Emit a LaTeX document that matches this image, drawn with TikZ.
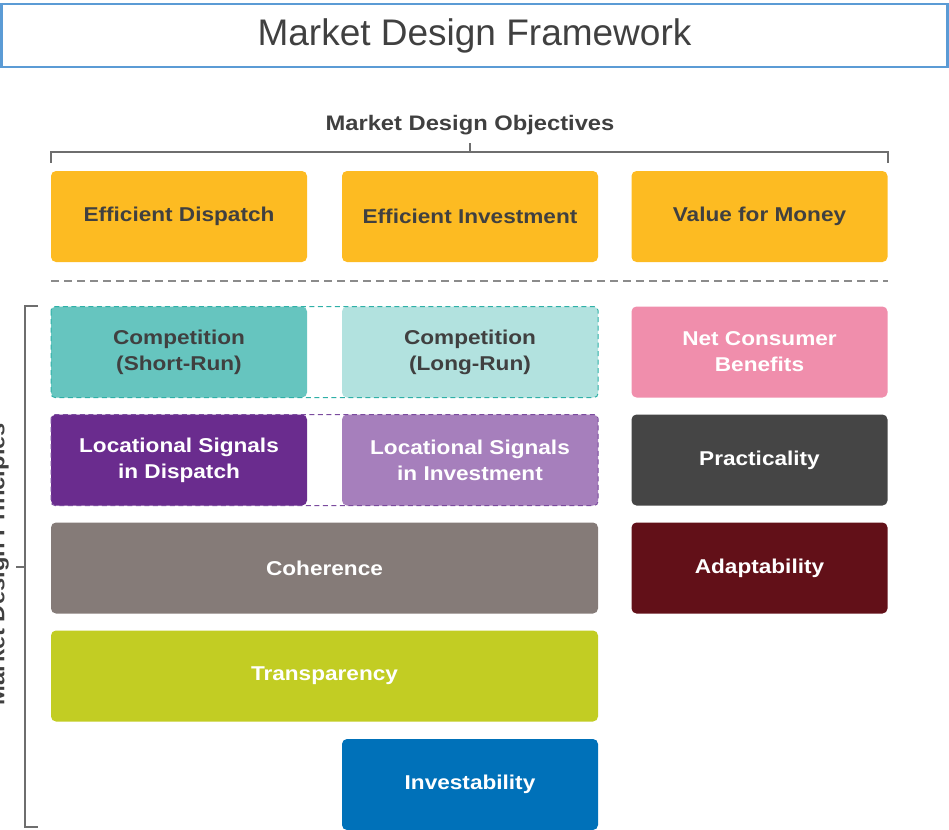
\documentclass[tikz,border=0pt]{standalone}
\usepackage{fontspec}
\setmainfont{Liberation Sans}
\newfontfamily\widesans[FakeStretch=1.13]{Liberation Sans}
\usetikzlibrary{calc}
\begin{document}
\begin{tikzpicture}[x=1pt,y=-1pt,
  every node/.style={inner sep=0pt,outer sep=0pt},
  box/.style={rounded corners=5pt,align=center,font=\widesans\fontsize{20}{26}\selectfont\bfseries},
  darktext/.style={text=txtgray},
  lighttext/.style={text=white},
  narrow/.style={minimum width=256pt,minimum height=91pt},
  wide/.style={minimum width=547pt,minimum height=91pt},
  bracket/.style={draw=brgray,line width=1.1pt},
  heading/.style={text=txtgray,font=\widesans\fontsize{21}{24}\selectfont\bfseries},
  groupframe/.style={dashed,line width=1pt,dash pattern=on 5pt off 3.5pt},
]
\definecolor{txtgray}{HTML}{404040}
\definecolor{brgray}{HTML}{6E6E6E}
\definecolor{titleblue}{HTML}{5B9BD5}
\definecolor{cyellow}{HTML}{FDBB22}
\definecolor{cteal}{HTML}{66C5BF}
\definecolor{clteal}{HTML}{B2E2DF}
\definecolor{cpink}{HTML}{F08EAC}
\definecolor{cpurple}{HTML}{6A2C8E}
\definecolor{clavender}{HTML}{A67FBC}
\definecolor{cdark}{HTML}{454545}
\definecolor{ctaupe}{HTML}{857B78}
\definecolor{cmaroon}{HTML}{621018}
\definecolor{clime}{HTML}{C2CD23}
\definecolor{cblue}{HTML}{0071B9}
\definecolor{tealdash}{HTML}{2EB0A7}
\definecolor{purpdash}{HTML}{7B4B9E}

\useasboundingbox (0,0) rectangle (949,829);

% heading banner
\node[draw=titleblue,line width=2.2pt,minimum width=946pt,minimum height=63pt,
      text=txtgray,font=\fontsize{37}{42}\selectfont] (title) at (474.5,35.5) {Market Design Framework};

% objectives
\node[heading] (obj) at (470,125) {Market Design Objectives};
\coordinate (objL) at (51,152);
\coordinate (objR) at (888,152);
\coordinate (objM) at (470,152);
\draw[bracket] ($(objL)+(0,11)$) -- (objL) -- (objR) -- ($(objR)+(0,11)$);
\draw[bracket] (objM) -- ++(0,-9);

\node[box,narrow,fill=cyellow,darktext] (ed) at (179,216.5) {Efficient Dispatch};
\node[box,narrow,fill=cyellow,darktext] (ei) at (470,216.5) {Efficient Investment};
\node[box,narrow,fill=cyellow,darktext] (vm) at (759.5,216.5) {Value for Money};

% separator
\draw[draw=brgray!80,line width=1.2pt,dash pattern=on 8pt off 5pt] (51,281) -- (888,281);

% principles
\node[box,narrow,fill=cteal,darktext] (csr) at (179,352) {Competition\\(Short-Run)};
\node[box,narrow,fill=clteal,darktext] (clr) at (470,352) {Competition\\(Long-Run)};
\node[box,narrow,fill=cpink,lighttext] (ncb) at (759.5,352) {Net Consumer\\Benefits};

\node[box,narrow,fill=cpurple,lighttext] (lsd) at (179,460) {Locational Signals\\in Dispatch};
\node[box,narrow,fill=clavender,lighttext] (lsi) at (470,460) {Locational Signals\\in Investment};
\node[box,narrow,fill=cdark,lighttext] (prac) at (759.5,460) {Practicality};

\node[box,wide,fill=ctaupe,lighttext] (coh) at (324.5,568) {Coherence};
\node[box,narrow,fill=cmaroon,lighttext] (adapt) at (759.5,568) {Adaptability};

\node[box,wide,fill=clime,lighttext] (transp) at (324.5,676) {Transparency};

\node[box,narrow,fill=cblue,lighttext] (inv) at (470,784.5) {Investability};

% dashed groupings
\draw[groupframe,draw=tealdash,rounded corners=4pt] (csr.north west) rectangle (clr.south east);
\draw[groupframe,draw=purpdash,rounded corners=4pt] (lsd.north west) rectangle (lsi.south east);

% principles bracket
\coordinate (prT) at (25,306);
\coordinate (prB) at (25,827);
\draw[bracket] (38,306) -- (prT) -- (prB) -- (38,827);
\draw[bracket] (25,567) -- (16,567);
\node[heading,rotate=90] (prin) at (-1,564) {Market Design Principles};
\end{tikzpicture}
\end{document}
